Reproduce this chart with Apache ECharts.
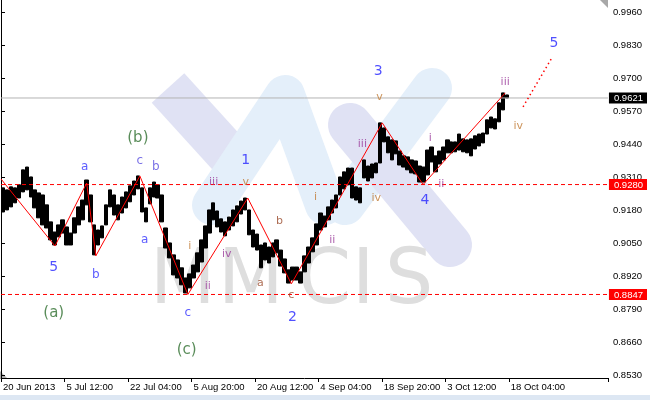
<!DOCTYPE html>
<html><head><meta charset="utf-8">
<script src="https://cdn.jsdelivr.net/npm/echarts@6/dist/echarts.min.js"></script>
<style>html,body{margin:0;padding:0;background:#fff}#c{width:650px;height:400px}</style>
</head><body><div id="c"></div>
<script>
// ---- data ----
const tickLabels = ['20 Jun 2013','5 Jul 12:00','22 Jul 04:00','5 Aug 20:00','20 Aug 12:00','4 Sep 04:00','18 Sep 20:00','3 Oct 12:00','18 Oct 04:00'];
const yTickValues = [0.8530,0.8660,0.8790,0.8920,0.9050,0.9180,0.9310,0.9440,0.9570,0.9700,0.9830,0.9960];
const lastClose = 0.9621;
const supportLevels = [0.9280, 0.8847];
const barHigh = [0.9267,0.9259,0.9271,0.9267,0.9279,0.9338,0.9349,0.9310,0.9259,0.9247,
0.9239,0.9200,0.9133,0.9093,0.9121,0.9141,0.9113,0.9089,0.9149,0.9192,
0.9219,0.9298,0.9239,0.9121,0.9101,0.9117,0.9200,0.9259,0.9239,0.9200,
0.9231,0.9251,0.9275,0.9294,0.9314,0.9267,0.9188,0.9267,0.9290,0.9279,
0.9239,0.9109,0.9050,0.9003,0.8983,0.8952,0.8912,0.8928,0.8963,0.9011,
0.9062,0.9117,0.9180,0.9208,0.9176,0.9145,0.9133,0.9152,0.9180,0.9196,
0.9215,0.9227,0.9180,0.9101,0.9085,0.9042,0.9050,0.9034,0.9050,0.9062,
0.9022,0.8987,0.8944,0.8955,0.8955,0.8936,0.8999,0.9034,0.9070,0.9125,
0.9168,0.9156,0.9192,0.9219,0.9239,0.9310,0.9330,0.9345,0.9345,0.9271,
0.9267,0.9377,0.9353,0.9361,0.9365,0.9523,0.9503,0.9468,0.9456,0.9452,
0.9412,0.9393,0.9389,0.9377,0.9373,0.9353,0.9349,0.9416,0.9428,0.9393,
0.9412,0.9428,0.9456,0.9448,0.9448,0.9479,0.9460,0.9456,0.9460,0.9472,
0.9479,0.9483,0.9535,0.9546,0.9539,0.9602,0.9641,0.9633];
const barLow = [0.9172,0.9180,0.9192,0.9208,0.9227,0.9251,0.9259,0.9231,0.9188,0.9149,
0.9121,0.9109,0.9062,0.9042,0.9074,0.9089,0.9042,0.9042,0.9089,0.9121,
0.9141,0.9200,0.9133,0.9003,0.9042,0.9070,0.9121,0.9192,0.9160,0.9141,
0.9168,0.9188,0.9212,0.9239,0.9263,0.9172,0.9133,0.9204,0.9231,0.9227,
0.9133,0.9030,0.8991,0.8924,0.8912,0.8885,0.8853,0.8873,0.8912,0.8936,
0.8975,0.9030,0.9089,0.9141,0.9113,0.9093,0.9078,0.9101,0.9117,0.9133,
0.9164,0.9180,0.9082,0.9034,0.9022,0.8952,0.8983,0.8971,0.8995,0.9011,
0.8959,0.8932,0.8892,0.8904,0.8904,0.8892,0.8936,0.8971,0.9015,0.9042,
0.9101,0.9113,0.9141,0.9168,0.9188,0.9239,0.9263,0.9279,0.9227,0.9219,
0.9208,0.9306,0.9294,0.9306,0.9326,0.9365,0.9448,0.9405,0.9377,0.9401,
0.9357,0.9349,0.9338,0.9326,0.9322,0.9290,0.9290,0.9318,0.9369,0.9330,
0.9361,0.9377,0.9405,0.9405,0.9409,0.9416,0.9409,0.9405,0.9393,0.9420,
0.9432,0.9444,0.9479,0.9503,0.9499,0.9527,0.9574,0.9621];
// wave pivots (bar position, price)
const waveBar = [0, 13.6, 21.6, 23.9, 35.0, 47.1, 62.2, 73.2, 96.1, 106.4, 127.1];
const wavePrice = [0.9302, 0.9038, 0.9286, 0.8999, 0.9314, 0.8847, 0.9227, 0.8889, 0.9523, 0.9280, 0.9641];
const projBar = [131.6, 138.7];
const projPrice = [0.9586, 0.9775];
// wave labels
const labelText  = ['(b)','(a)','(c)','5','a','b','c','b','a','c','1','2','3','4','5',
  'iii','v','i','ii','iv','b','a','c','i','ii','iii','iv','v','i','ii','iii','iv'];
const labelBar   = [34.5,13.3,46.8,13.3,21.1,23.9,35.0,39.0,36.2,47.1,61.7,73.5,95.1,106.9,139.4,
  53.6,61.7,47.6,52.1,56.9,70.2,65.4,73.2,79.3,83.5,91.1,94.6,95.4,108.2,111.0,127.1,130.4];
const labelPrice = [0.9464,0.8774,0.8629,0.8952,0.9349,0.8924,0.9373,0.9349,0.9062,0.8774,0.9377,0.8755,0.9724,0.9219,0.9838,
  0.9290,0.9290,0.9038,0.8881,0.9007,0.9137,0.8892,0.8845,0.9231,0.9062,0.9440,0.9227,0.9625,0.9464,0.9283,0.9684,0.9511];
const labelKind  = ['cyc','cyc','cyc','dig','blu','blu','vio','vio','blu','blu','dig','dig','dig','dig','dig',
  'pur','org','org','pur','pur','brn','brn','brn','org','pur','pur','org','org','pur','pur','pur','org'];

// ---- styles ----
const kindStyle = {
  cyc:{color:'#2f6f2f', fontSize:15},
  dig:{color:'#2626ff', fontSize:14},
  blu:{color:'#3333ff', fontSize:12},
  vio:{color:'#5a4fe0', fontSize:12},
  pur:{color:'#9a3a9a', fontSize:11},
  org:{color:'#c07a34', fontSize:11},
  brn:{color:'#9a4a2a', fontSize:11}
};
const NCAT = 153;
const cats = [];
for (let i = 0; i < NCAT; i++) cats.push(i % 16 === 0 && tickLabels[i/16] ? tickLabels[i/16] : '');
const yMin = 0.8518, yMax = 1.0007;
const FONT = 'Liberation Sans';

function hLine(v, color, type) {
  return {type:'line', xAxisIndex:1, yAxisIndex:0, z:4, symbol:'none', silent:true,
    data:[[0, v], [NCAT, v]], lineStyle:{color:color, width:1, type:type}};
}

const chart = echarts.init(document.getElementById('c'), null, {renderer:'canvas'});
const wmBlue = '#e4effa', wmLav = '#e0e2f4', wmGray = '#dedede';
chart.setOption({
  animation:false,
  backgroundColor:'#fff',
  grid:{left:0, right:42, top:0, bottom:22, containLabel:false},
  xAxis:[{
    type:'category', data:cats, boundaryGap:true,
    axisLine:{show:true, lineStyle:{color:'#000', width:1}},
    axisTick:{show:true, length:4, lineStyle:{color:'#000'}, interval:(i,v)=>v!==''},
    axisLabel:{show:true, interval:(i,v)=>v!=='', align:'left', color:'#000', fontSize:9.5, fontFamily:FONT, margin:4},
    splitLine:{show:false}
  },{
    type:'value', min:0, max:NCAT, show:false
  }],
  yAxis:[{
    type:'value', position:'right', min:yMin, max:yMax, scale:true,
    axisLine:{show:true, lineStyle:{color:'#000', width:1}},
    axisTick:{show:true, length:4, lineStyle:{color:'#000'}, customValues:yTickValues},
    axisLabel:{show:true, customValues:yTickValues, formatter:v=>v.toFixed(4), color:'#000', fontSize:9.5, fontFamily:FONT, margin:5},
    splitLine:{show:false}
  },{
    type:'value', position:'right', min:yMin, max:yMax, scale:true,
    axisLine:{show:false}, axisTick:{show:false}, splitLine:{show:false},
    axisLabel:{show:true, customValues:[lastClose].concat(supportLevels), margin:1, fontFamily:FONT, fontSize:9.5,
      formatter:v=> (Math.abs(v-lastClose)<1e-6 ? '{k|' : '{r|') + v.toFixed(4) + '}',
      rich:{
        k:{backgroundColor:'#000', color:'#fff', padding:[1,4,0,5], fontSize:9.5, fontFamily:FONT},
        r:{backgroundColor:'#ff0000', color:'#fff', padding:[1,4,0,5], fontSize:9.5, fontFamily:FONT}
      }}
  }],
  graphic:[
    {type:'polyline', z:-10, shape:{points:[[168,88],[238,165]]}, style:{stroke:wmLav, lineWidth:44, fill:null}},
    {type:'polyline', z:-10, shape:{points:[[212,205],[285,95],[325,205]]}, style:{stroke:wmBlue, lineWidth:40, fill:null, lineCap:'round', lineJoin:'round'}},
    {type:'polyline', z:-10, shape:{points:[[345,205],[432,88]]}, style:{stroke:wmBlue, lineWidth:40, fill:null, lineCap:'round'}},
    {type:'polyline', z:-9, shape:{points:[[350,125],[450,245]]}, style:{stroke:wmLav, lineWidth:44, fill:null, lineCap:'round'}},
    {type:'text', z:-8, x:150, y:283, style:{text:'M', fontSize:76, fontFamily:'DejaVu Sans', fill:wmGray, verticalAlign:'middle'}},
    {type:'text', z:-8, x:218, y:283, style:{text:'M', fontSize:76, fontFamily:'DejaVu Sans', fill:wmGray, verticalAlign:'middle'}},
    {type:'text', z:-8, x:298, y:283, style:{text:'C', fontSize:76, fontFamily:'DejaVu Sans', fill:wmGray, verticalAlign:'middle'}},
    {type:'text', z:-8, x:352, y:283, style:{text:'I', fontSize:76, fontFamily:'DejaVu Sans', fill:wmGray, verticalAlign:'middle'}},
    {type:'text', z:-8, x:385, y:283, style:{text:'S', fontSize:76, fontFamily:'DejaVu Sans', fill:wmGray, verticalAlign:'middle'}},
    {type:'rect', shape:{x:0, y:395, width:650, height:5}, style:{fill:'#dde7f3'}},
    {type:'polygon', shape:{points:[[600,0],[608,0],[608,8]]}, style:{fill:'#a8a8a8'}},
    {type:'polygon', shape:{points:[[0,371],[0,378],[7,378]]}, style:{fill:'#b0b0b0'}}
  ],
  series:[
    {type:'candlestick', xAxisIndex:0, yAxisIndex:0, z:3, barWidth:'100%',
     data: barHigh.map((h,i)=>[barLow[i], h, barLow[i], h]),
     itemStyle:{color:'#000', color0:'#000', borderColor:'#000', borderColor0:'#000', borderWidth:1}},
    hLine(lastClose, '#b4b4b4', 'solid'),
    hLine(supportLevels[0], '#ff0000', [4,3]),
    hLine(supportLevels[1], '#ff0000', [4,3]),
    {type:'line', xAxisIndex:1, yAxisIndex:0, z:5, symbol:'none', silent:true,
     data: waveBar.map((b,i)=>[b, wavePrice[i]]),
     lineStyle:{color:'#ff0000', width:1}},
    {type:'line', xAxisIndex:1, yAxisIndex:0, z:5, symbol:'none', silent:true,
     data: projBar.map((b,i)=>[b, projPrice[i]]),
     lineStyle:{color:'#ff0000', width:1.5, type:[1.5,3]}},
    {type:'scatter', xAxisIndex:1, yAxisIndex:0, z:6, symbolSize:0, silent:true,
     data: labelText.map((t,i)=>({name:t, value:[labelBar[i], labelPrice[i]],
       label:{color:kindStyle[labelKind[i]].color, fontSize:kindStyle[labelKind[i]].fontSize}})),
     label:{show:true, position:'inside', formatter:'{b}', fontFamily:'DejaVu Sans'}}
  ]
});
</script></body></html>
